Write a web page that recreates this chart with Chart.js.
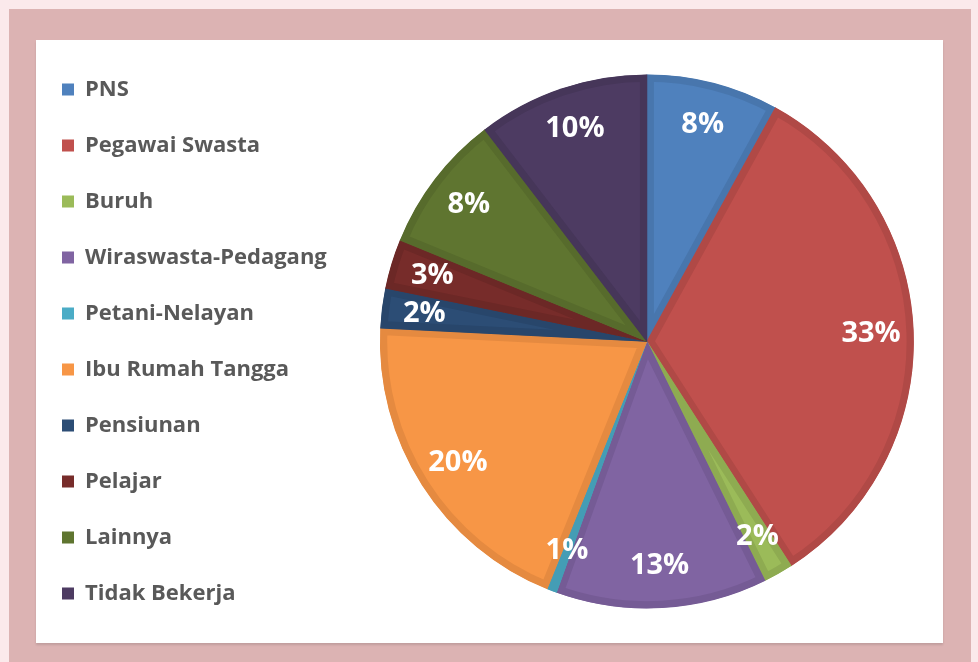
<!DOCTYPE html>
<html>
<head>
<meta charset="utf-8">
<script src="https://cdn.jsdelivr.net/npm/chart.js@4.4.1/dist/chart.umd.min.js"></script>
<style>
  html, body { margin: 0; padding: 0; }
  body { width: 978px; height: 662px; background: #fbe9eb; position: relative; overflow: hidden; }
  .frame { position: absolute; left: 9px; top: 9px; width: 962px; height: 660px; background: #dcb3b3; }
  .panel { position: absolute; left: 36px; top: 40px; width: 907px; height: 603px; background: #fff;
           box-shadow: 0 2px 2px rgba(0,0,0,0.12); }
  .chartBox { position: absolute; left: 28px; top: 40px; width: 929px; height: 603px; }
</style>
</head>
<body>
<div class="frame"></div>
<div class="panel"></div>
<div class="chartBox"><canvas id="pie"></canvas></div>
<script>
const categories = ['PNS', 'Pegawai Swasta', 'Buruh', 'Wiraswasta-Pedagang', 'Petani-Nelayan',
  'Ibu Rumah Tangga', 'Pensiunan', 'Pelajar', 'Lainnya', 'Tidak Bekerja'];
const shares = [8.0, 32.9, 1.8, 12.8, 0.6, 19.7, 2.4, 3.0, 8.4, 10.4];

const fillColors = ['#4f81bd', '#c0504d', '#9bbb59', '#8064a2', '#4bacc6',
  '#f79646', '#2c4d75', '#772c2a', '#5f7530', '#4d3b62'];
const edgeColors = ['#4876ad', '#b04946', '#8eab51', '#755b95', '#449db5',
  '#e58a40', '#28466b', '#6c2826', '#576b2c', '#463659'];

// white percent labels, placed along the middle angle of each slice
const sliceLabels = {
  id: 'sliceLabels',
  afterDatasetsDraw(chart) {
    const ctx = chart.ctx;
    const meta = chart.getDatasetMeta(0);
    ctx.save();
    ctx.fillStyle = '#ffffff';
    ctx.font = 'bold 29px "Open Sans"';
    ctx.textAlign = 'center';
    ctx.textBaseline = 'middle';
    meta.data.forEach((arc, i) => {
      const p = arc.getProps(['x', 'y', 'startAngle', 'endAngle', 'outerRadius'], true);
      const mid = (p.startAngle + p.endAngle) / 2;
      const r = p.outerRadius * 0.84;
      const txt = Math.round(shares[i]) + '%';
      ctx.fillText(txt, p.x + Math.cos(mid) * r, p.y + Math.sin(mid) * r);
    });
    ctx.restore();
  }
};

new Chart(document.getElementById('pie'), {
  type: 'pie',
  data: {
    labels: categories,
    datasets: [{
      data: shares,
      backgroundColor: fillColors,
      borderColor: edgeColors,
      borderWidth: 7,
      borderAlign: 'inner'
    }]
  },
  options: {
    responsive: true,
    maintainAspectRatio: false,
    animation: false,
    radius: 267,
    plugins: {
      tooltip: { enabled: false },
      legend: {
        position: 'left',
        labels: {
          boxWidth: 12,
          boxHeight: 12,
          padding: 34,
          color: '#595959',
          font: { family: '"Open Sans"', size: 22, weight: 'bold' },
          generateLabels(chart) {
            const items = Chart.overrides.pie.plugins.legend.labels.generateLabels(chart);
            items.forEach(it => { it.lineWidth = 0; it.strokeStyle = it.fillStyle; });
            return items;
          }
        }
      }
    }
  },
  plugins: [sliceLabels]
});
</script>
</body>
</html>
